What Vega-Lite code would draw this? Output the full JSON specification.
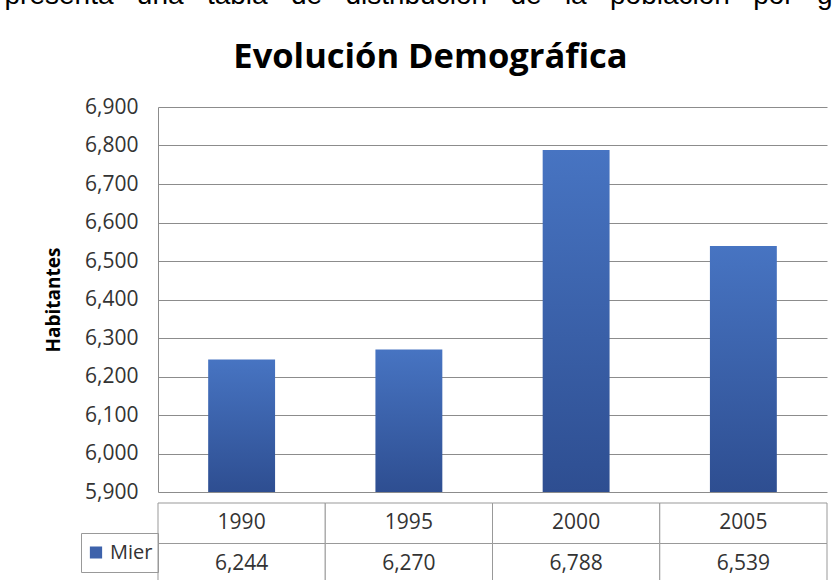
{
  "$schema": "https://vega.github.io/schema/vega-lite/v6.json",
  "padding": {"left": 4, "top": -19, "right": 0, "bottom": 0},
  "background": "white",
  "datasets": {
    "d": [
      {"year": "1990", "value": 6244},
      {"year": "1995", "value": 6270},
      {"year": "2000", "value": 6788},
      {"year": "2005", "value": 6539}
    ]
  },
  "title": {
    "text": "presenta\u00a0\u00a0\u00a0una\u00a0\u00a0\u00a0tabla\u00a0\u00a0\u00a0de\u00a0\u00a0\u00a0distribución\u00a0\u00a0\u00a0de\u00a0\u00a0\u00a0la\u00a0\u00a0\u00a0población\u00a0\u00a0\u00a0por\u00a0\u00a0\u00a0g",
    "anchor": "start",
    "frame": "bounds",
    "font": "Liberation Sans",
    "fontSize": 28,
    "fontWeight": "normal",
    "color": "#000000",
    "dx": -40,
    "offset": 30
  },
  "spacing": 0,
  "resolve": {"scale": {"x": "independent", "y": "independent"}},
  "vconcat": [
    {
      "width": 669,
      "height": 385,
      "title": {
        "text": "Evolución Demográfica",
        "font": "Open Sans",
        "fontSize": 34.5,
        "fontWeight": "bold",
        "color": "#000000",
        "frame": "group",
        "anchor": "middle",
        "dx": -62,
        "offset": 21
      },
      "data": {"name": "d"},
      "mark": {
        "type": "bar",
        "fill": {
          "gradient": "linear",
          "x1": 0, "y1": 0, "x2": 0, "y2": 1,
          "stops": [
            {"offset": 0, "color": "#4774c2"},
            {"offset": 1, "color": "#2e4e91"}
          ]
        }
      },
      "encoding": {
        "x": {
          "field": "year",
          "type": "nominal",
          "scale": {"paddingInner": 0.6, "paddingOuter": 0.3},
          "axis": null
        },
        "y": {
          "field": "value",
          "type": "quantitative",
          "scale": {"domain": [5900, 6900], "zero": false, "nice": false},
          "axis": {
            "title": "Habitantes",
            "values": [5900, 6000, 6100, 6200, 6300, 6400, 6500, 6600, 6700, 6800, 6900],
            "format": ",.0f",
            "grid": true,
            "gridColor": "#8c8c8c",
            "gridWidth": 1,
            "domain": true,
            "domainColor": "#8c8c8c",
            "ticks": false,
            "tickSize": 0,
            "labelPadding": 20,
            "labelFont": "Open Sans",
            "labelFontSize": 21,
            "labelColor": "#333333",
            "titleFont": "Open Sans",
            "titleFontSize": 19,
            "titleFontWeight": "bold",
            "titleColor": "#000000",
            "titlePadding": 21
          }
        },
        "y2": {"datum": 5900}
      }
    },
    {
      "width": 669,
      "height": 81,
      "data": {"name": "d"},
      "encoding": {
        "x": {
          "field": "year",
          "type": "nominal",
          "scale": {"paddingInner": 0, "paddingOuter": 0},
          "axis": null
        }
      },
      "layer": [
        {
          "mark": {"type": "rect", "fill": "white", "stroke": "#999999", "strokeWidth": 1},
          "encoding": {
            "y": {
              "datum": "year",
              "type": "nominal",
              "scale": {"domain": ["year", "value"], "paddingInner": 0, "paddingOuter": 0},
              "axis": null
            }
          }
        },
        {
          "mark": {"type": "rect", "fill": "white", "stroke": "#999999", "strokeWidth": 1},
          "encoding": {
            "y": {"datum": "value", "type": "nominal"}
          }
        },
        {
          "mark": {"type": "text", "font": "Open Sans", "fontSize": 21, "color": "#333333"},
          "encoding": {
            "y": {"datum": "year", "type": "nominal"},
            "text": {"field": "year"}
          }
        },
        {
          "mark": {"type": "text", "font": "Open Sans", "fontSize": 21, "color": "#333333"},
          "encoding": {
            "y": {"datum": "value", "type": "nominal"},
            "text": {"field": "value", "format": ",.0f"}
          }
        },
        {
          "mark": {"type": "square", "size": 0, "opacity": 1},
          "encoding": {
            "y": {"datum": "value", "type": "nominal"},
            "color": {
              "datum": "Mier",
              "type": "nominal",
              "scale": {"range": ["#3d62ab"]},
              "legend": {
                "orient": "none",
                "legendX": -77,
                "legendY": 426,
                "title": null,
                "strokeColor": "#999999",
                "padding": 5,
                "clipHeight": 29,
                "symbolType": "square",
                "symbolSize": 150,
                "symbolStrokeWidth": 0,
                "labelFont": "Open Sans",
                "labelFontSize": 20,
                "labelColor": "#333333",
                "labelOffset": 4
              }
            }
          }
        }
      ]
    }
  ],
  "config": {
    "view": {"stroke": null}
  }
}
